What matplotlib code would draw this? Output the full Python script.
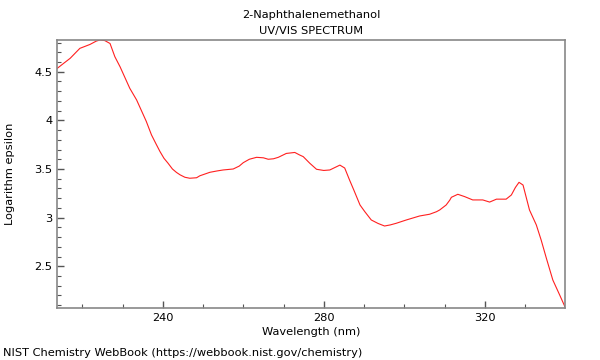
import matplotlib
matplotlib.use("Agg")
import matplotlib.pyplot as plt
from matplotlib.ticker import MultipleLocator

# values
wavelength = [213.8, 215.5, 217.0, 219.4, 221.9, 223.5, 224.4, 225.6, 226.9, 228.1,
              229.4, 231.8, 233.5, 235.9, 237.2, 238.3, 239.3, 240.3, 241.3, 242.4,
              243.4, 244.3, 245.5, 246.7, 248.4, 249.2, 251.7, 253.5, 255.0, 257.5,
              259.0, 260.0, 261.5, 263.3, 265.0, 266.2, 267.5, 268.7, 270.7, 272.8,
              274.0, 274.9, 276.5, 278.2, 280.0, 281.5, 283.0, 284.0, 285.2, 286.4,
              287.5, 289.0, 290.2, 291.8, 293.5, 295.1, 296.5, 298.0, 300.5, 303.8,
              306.3, 308.0, 308.8, 310.4, 311.3, 311.7, 313.3, 315.0, 317.0, 319.5,
              321.2, 322.9, 325.3, 326.6, 327.6, 328.5, 329.5, 331.1, 332.8, 334.0,
              335.3, 336.9, 338.6, 339.9]
log_eps = [4.535, 4.59, 4.638, 4.74, 4.78, 4.815, 4.826, 4.82, 4.79, 4.654,
           4.55, 4.33, 4.21, 3.99, 3.85, 3.76, 3.68, 3.61, 3.56, 3.5,
           3.465, 3.44, 3.415, 3.405, 3.41, 3.43, 3.466, 3.48, 3.49, 3.50,
           3.53, 3.565, 3.60, 3.62, 3.615, 3.60, 3.605, 3.62, 3.66, 3.67,
           3.644, 3.627, 3.56, 3.497, 3.485, 3.49, 3.52, 3.54, 3.51, 3.387,
           3.28, 3.13, 3.061, 2.976, 2.94, 2.914, 2.925, 2.942, 2.976, 3.017,
           3.035, 3.061, 3.079, 3.13, 3.18, 3.209, 3.24, 3.216, 3.182, 3.182,
           3.16, 3.19, 3.19, 3.233, 3.31, 3.363, 3.335, 3.079, 2.925, 2.77,
           2.582, 2.359, 2.205, 2.085]

fig = plt.figure(figsize=(6, 3.6), dpi=100)
ax = fig.add_axes([0.0955, 0.1444, 0.846, 0.7445])
ax.plot(wavelength, log_eps, color='#ff2020', linewidth=0.8)

ax.set_xlim(213.8, 339.9)
ax.set_ylim(2.071, 4.826)
ax.xaxis.set_major_locator(MultipleLocator(40))
ax.xaxis.set_minor_locator(MultipleLocator(10))
ax.yaxis.set_minor_locator(MultipleLocator(0.1))
ax.set_yticks([2.5, 3, 3.5, 4, 4.5])
ax.set_yticklabels(['2.5', '3', '3.5', '4', '4.5'])

ax.tick_params(which='both', direction='in', colors='#555555', labelcolor='black',
               labelsize=8.2, top=False, right=False)
ax.tick_params(which='major', length=5, width=1)
ax.tick_params(which='minor', length=3, width=0.8)
for s in ax.spines.values():
    s.set_color('#888888')
    s.set_linewidth(1.2)

ax.set_xlabel('Wavelength (nm)', fontsize=8.2, labelpad=3)
ax.set_ylabel('Logarithm epsilon', fontsize=8.2, labelpad=14)
ax.set_title('2-Naphthalenemethanol\nUV/VIS SPECTRUM', fontsize=8.2, pad=4, linespacing=1.8)
fig.text(0.005, 0.012, 'NIST Chemistry WebBook (https://webbook.nist.gov/chemistry)', fontsize=8.2)

fig.savefig('out.png', dpi=100)
